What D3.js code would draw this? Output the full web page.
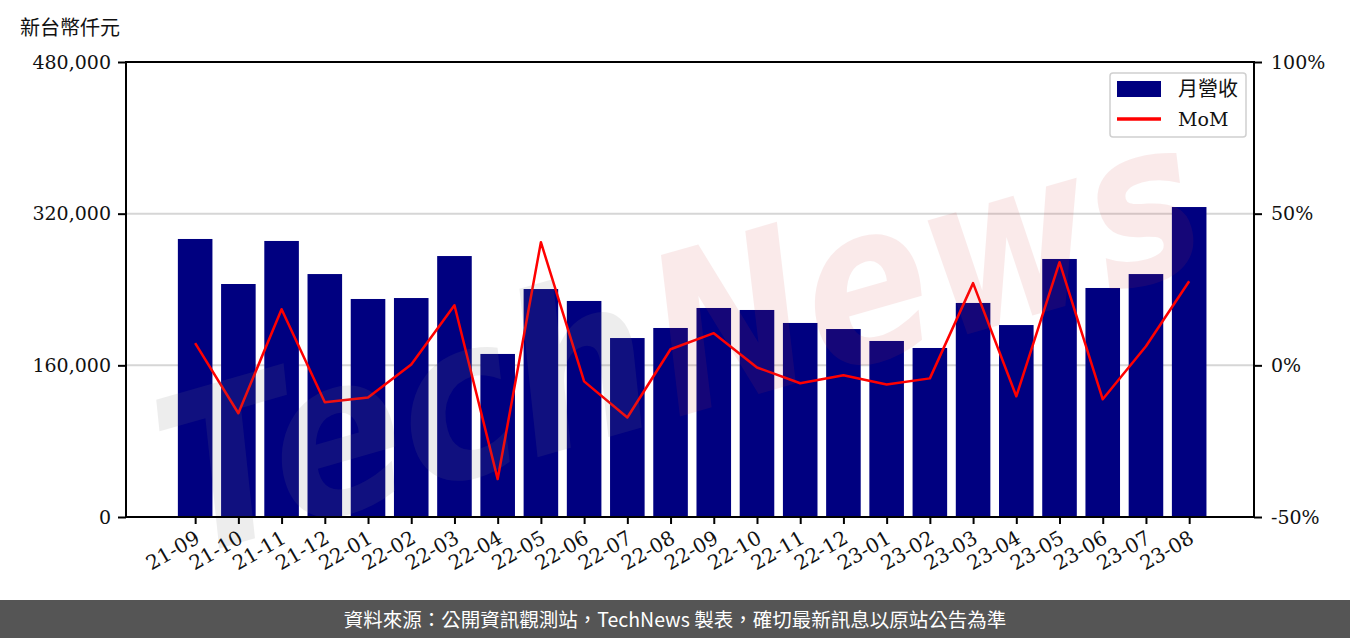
<!DOCTYPE html>
<html>
<head>
<meta charset="utf-8">
<script src="https://cdn.jsdelivr.net/npm/d3@7"></script>
<style>
  body { margin: 0; background: #fff; }
  svg text { font-family: "DejaVu Serif", "Liberation Serif", serif; }
</style>
</head>
<body>
<div id="chart"></div>
<script>
// Chart data
const months = ["21-09", "21-10", "21-11", "21-12", "22-01", "22-02", "22-03", "22-04",
  "22-05", "22-06", "22-07", "22-08", "22-09", "22-10", "22-11", "22-12",
  "23-01", "23-02", "23-03", "23-04", "23-05", "23-06", "23-07", "23-08"];
const revenue = [293300, 245800, 291200, 256300, 230000, 231000, 275300, 172000,
  240500, 227900, 188800, 199400, 220500, 218400, 204700, 198300,
  185700, 178300, 225800, 202500, 272200, 241600, 256300, 327000];
const mom = [7.3, -15.8, 18.5, -12.2, -10.6, 0.3, 19.8, -37.5,
  40.6, -5.3, -17.2, 5.3, 10.6, -0.7, -5.9, -3.3,
  -6.3, -4.3, 27.1, -10.2, 34.0, -11.2, 6.3, 27.7];
const leftTicks = [0, 160000, 320000, 480000];
const rightTicks = [-50, 0, 50, 100];

const svgWidth = 1350;
const svgHeight = 638;

// Plot area
const plot = { left: 126, right: 1254, top: 62, bottom: 517 };

const svg = d3.select("#chart")
  .append("svg")
  .attr("width", svgWidth)
  .attr("height", svgHeight);

// Scales
const xScale = d3.scaleLinear()
  .domain([-1.6, months.length - 1 + 1.5])
  .range([plot.left, plot.right]);

const yLeft = d3.scaleLinear()
  .domain([0, 480000])
  .range([plot.bottom, plot.top]);

const yRight = d3.scaleLinear()
  .domain([-50, 100])
  .range([plot.bottom, plot.top]);

const step = xScale(1) - xScale(0);
const barWidth = step * 0.8;

// Grid lines
svg.append("g")
  .selectAll("line")
  .data(leftTicks.filter(d => d > 0 && d < 480000))
  .enter()
  .append("line")
  .attr("x1", plot.left)
  .attr("x2", plot.right)
  .attr("y1", d => yLeft(d))
  .attr("y2", d => yLeft(d))
  .attr("stroke", "#d6d6d6")
  .attr("stroke-width", 2);

// Bars
svg.append("g")
  .selectAll("rect")
  .data(revenue)
  .enter()
  .append("rect")
  .attr("x", (d, i) => xScale(i) - barWidth / 2)
  .attr("y", d => yLeft(d))
  .attr("width", barWidth)
  .attr("height", d => yLeft(0) - yLeft(d))
  .attr("fill", "#000080");

// MoM line
const line = d3.line()
  .x((d, i) => xScale(i))
  .y(d => yRight(d));

svg.append("path")
  .datum(mom)
  .attr("d", line)
  .attr("fill", "none")
  .attr("stroke", "#ff0000")
  .attr("stroke-width", 2.5)
  .attr("stroke-linejoin", "round");

// Watermark
const wm = svg.append("g")
  .style("pointer-events", "none")
  .attr("transform", "translate(690, 320) rotate(-16)");

wm.append("text")
  .attr("x", -550)
  .attr("y", 90)
  .attr("textLength", 500)
  .attr("lengthAdjust", "spacingAndGlyphs")
  .style("font-family", "'DejaVu Sans', sans-serif")
  .style("font-style", "italic")
  .style("font-weight", "bold")
  .style("font-size", "220px")
  .attr("fill", "#7a7a7a")
  .attr("opacity", 0.13)
  .text("Tech");

wm.append("text")
  .attr("x", -40)
  .attr("y", 90)
  .attr("textLength", 560)
  .attr("lengthAdjust", "spacingAndGlyphs")
  .style("font-family", "'DejaVu Sans', sans-serif")
  .style("font-style", "italic")
  .style("font-weight", "bold")
  .style("font-size", "220px")
  .attr("fill", "#d03c3c")
  .attr("opacity", 0.1)
  .text("News");

// Axes
const xAxis = d3.axisBottom(xScale)
  .tickValues(d3.range(months.length))
  .tickFormat(i => months[i])
  .tickSize(7)
  .tickSizeOuter(0);

const gx = svg.append("g")
  .attr("transform", `translate(0, ${plot.bottom})`)
  .call(xAxis);

gx.select(".domain").remove();
gx.selectAll(".tick line").attr("stroke-width", 2);
gx.selectAll(".tick text")
  .style("font-size", "20px")
  .attr("fill", "#111")
  .attr("text-anchor", "end")
  .attr("transform", "translate(-2, 12) rotate(-30)")
  .attr("dy", "0.75em")
  .attr("y", 0)
  .attr("x", 0);

const leftAxis = d3.axisLeft(yLeft)
  .tickValues(leftTicks)
  .tickFormat(d3.format(","))
  .tickSize(8)
  .tickPadding(7);

const gl = svg.append("g")
  .attr("transform", `translate(${plot.left}, 0)`)
  .call(leftAxis);
gl.select(".domain").remove();
gl.selectAll(".tick line").attr("stroke-width", 2);
gl.selectAll(".tick text").style("font-size", "19px").attr("fill", "#111");

const rightAxis = d3.axisRight(yRight)
  .tickValues(rightTicks)
  .tickFormat(d => d + "%")
  .tickSize(8)
  .tickPadding(9);

const gr = svg.append("g")
  .attr("transform", `translate(${plot.right}, 0)`)
  .call(rightAxis);
gr.select(".domain").remove();
gr.selectAll(".tick line").attr("stroke-width", 2);
gr.selectAll(".tick text").style("font-size", "19px").attr("fill", "#111");

// Frame
svg.append("rect")
  .attr("x", plot.left)
  .attr("y", plot.top)
  .attr("width", plot.right - plot.left)
  .attr("height", plot.bottom - plot.top)
  .attr("fill", "none")
  .attr("stroke", "#000")
  .attr("stroke-width", 2);

// Unit label
svg.append("text")
  .attr("x", 20)
  .attr("y", 35)
  .style("font-family", "'Noto Sans CJK TC', sans-serif")
  .style("font-size", "20px")
  .attr("fill", "#111")
  .text("新台幣仟元");

// Legend
const legend = svg.append("g")
  .attr("transform", "translate(1110, 73)");

legend.append("rect")
  .attr("width", 136)
  .attr("height", 64)
  .attr("rx", 3)
  .attr("fill", "#fff")
  .attr("fill-opacity", 0.8)
  .attr("stroke", "#d0d0d0")
  .attr("stroke-width", 1.5);

legend.append("rect")
  .attr("x", 7)
  .attr("y", 8)
  .attr("width", 44)
  .attr("height", 16)
  .attr("fill", "#000080");

legend.append("line")
  .attr("x1", 7)
  .attr("x2", 51)
  .attr("y1", 46)
  .attr("y2", 46)
  .attr("stroke", "#ff0000")
  .attr("stroke-width", 3.5);

legend.append("text")
  .attr("x", 68)
  .attr("y", 23)
  .style("font-family", "'Noto Sans CJK TC', sans-serif")
  .style("font-size", "20px")
  .attr("fill", "#111")
  .text("月營收");

legend.append("text")
  .attr("x", 68)
  .attr("y", 53)
  .style("font-size", "19px")
  .attr("fill", "#111")
  .text("MoM");

// Footer
svg.append("rect")
  .attr("x", 0)
  .attr("y", 600)
  .attr("width", svgWidth)
  .attr("height", 38)
  .attr("fill", "#555555");

svg.append("text")
  .attr("x", svgWidth / 2)
  .attr("y", 627)
  .attr("text-anchor", "middle")
  .style("font-family", "'Noto Sans CJK TC', sans-serif")
  .style("font-size", "19.5px")
  .attr("fill", "#fff")
  .text("資料來源：公開資訊觀測站，TechNews 製表，確切最新訊息以原站公告為準");
</script>
</body>
</html>
